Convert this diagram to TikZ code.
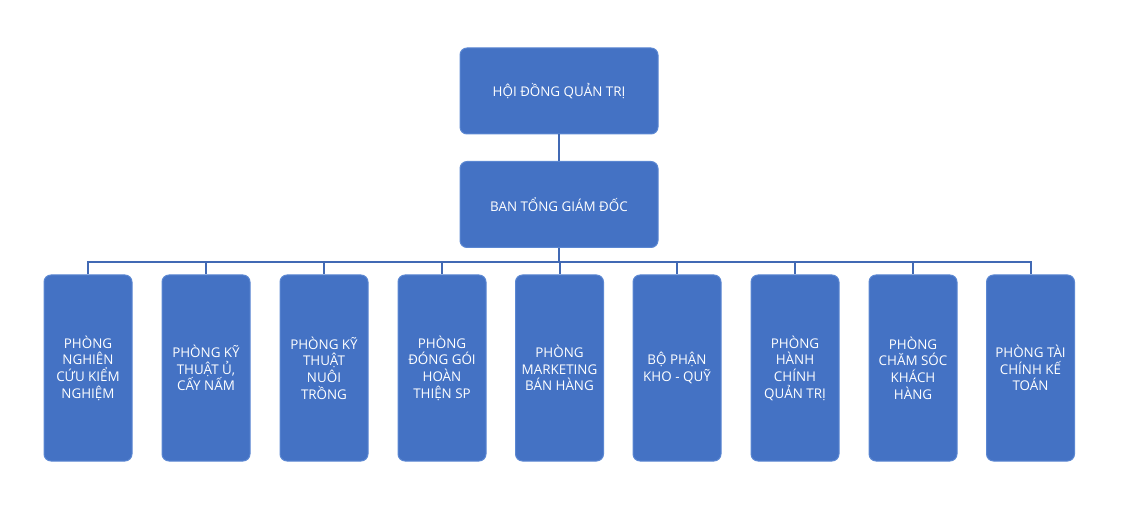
\documentclass[tikz,border=0pt]{standalone}
\usepackage{fontspec}
\setmainfont{Open Sans}
\usetikzlibrary{positioning}
\definecolor{boxblue}{HTML}{4472C4}
\definecolor{edgeblue}{HTML}{5B87D2}
\definecolor{lineblue}{HTML}{4169B4}

\begin{document}
\begin{tikzpicture}[x=1pt, y=-1pt]
    \tikzset{unit/.style = {rectangle, rounded corners=7pt, draw=edgeblue, line width=1pt, fill=boxblue, text=white, align=center, font=\fontsize{13.4}{16.7}\selectfont}}
    \tikzset{head/.style = {unit, minimum width=198pt, minimum height=86pt}}
    \tikzset{dept/.style = {unit, minimum width=88pt, minimum height=186pt}}
    \tikzset{link/.style = {draw=lineblue, line width=2pt}}

    \useasboundingbox (0,0) rectangle (1122,529);

    \node[head] (board) at (559,91) {HỘI ĐỒNG QUẢN TRỊ};
    \node[head] (ceo) at (559,204.5) {BAN TỔNG GIÁM ĐỐC};
    \coordinate (bus) at (559,262);

    % departments
    \node[dept] (d1) at (88,368) {PHÒNG\\NGHIÊN\\CỨU KIỂM\\NGHIỆM};
    \node[dept] (d2) at (206,368) {PHÒNG KỸ\\THUẬT Ủ,\\CẤY NẤM};
    \node[dept] (d3) at (324,368) {PHÒNG KỸ\\THUẬT\\NUÔI\\TRỒNG};
    \node[dept] (d4) at (442,368) {PHÒNG\\ĐÓNG GÓI\\HOÀN\\THIỆN SP};
    \node[dept] (d5) at (559.5,368) {PHÒNG\\MARKETING\\BÁN HÀNG};
    \node[dept] (d6) at (677,368) {BỘ PHẬN\\KHO - QUỸ};
    \node[dept] (d7) at (795,368) {PHÒNG\\HÀNH\\CHÍNH\\QUẢN TRỊ};
    \node[dept] (d8) at (913,368) {PHÒNG\\CHĂM SÓC\\KHÁCH\\HÀNG};
    \node[dept] (d9) at (1030.5,368) {PHÒNG TÀI\\CHÍNH KẾ\\TOÁN};

    \draw[link] (board) -- (ceo);
    \draw[link] (ceo) -- (bus);
    \foreach \i in {1,...,9}
        \draw[link] (bus) -| (d\i.north);
\end{tikzpicture}
\end{document}
